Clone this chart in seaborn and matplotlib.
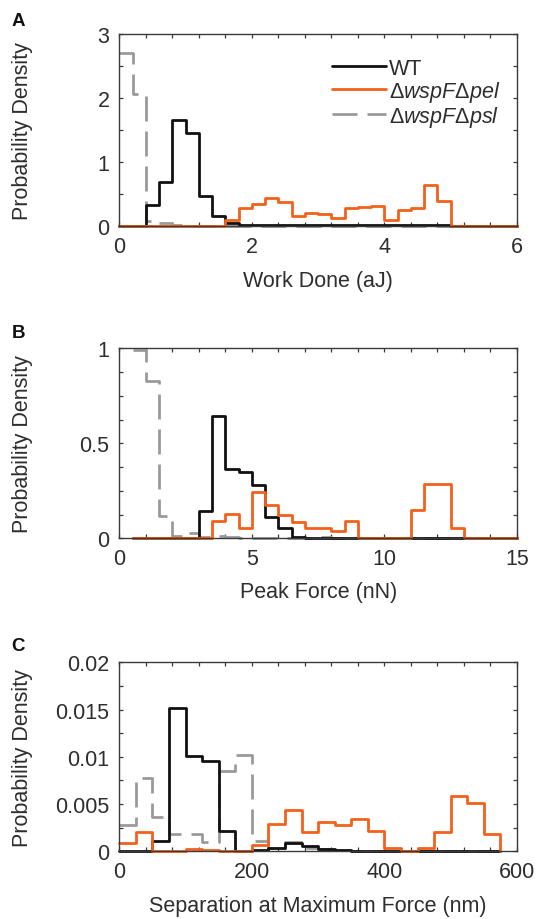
import numpy as np
import pandas as pd
import matplotlib
matplotlib.use("Agg")
import matplotlib.pyplot as plt
from matplotlib.ticker import MultipleLocator, FuncFormatter
import seaborn as sns

# ---------------- data ----------------
series_labels = ["WT", "Δ$\\mathit{wspF}$Δ$\\mathit{pel}$", "Δ$\\mathit{wspF}$Δ$\\mathit{psl}$"]

# Panel A: Work Done (aJ), bins of 0.2 from 0 to 6
a_start, a_width = 0.0, 0.2
wt_A = [0, 0, 0.33, 0.68, 1.66, 1.46, 0.47, 0.15, 0.04, 0.02,
        0.01, 0.01, 0.02, 0.01, 0.01, 0.01, 0.01, 0.01, 0.01, 0.01,
        0.01, 0.01, 0.01, 0.01, 0.01, 0, 0, 0, 0, 0]
pel_A = [0, 0, 0, 0, 0, 0, 0, 0, 0.09, 0.28,
         0.35, 0.44, 0.38, 0.16, 0.21, 0.19, 0.125, 0.28, 0.29, 0.31,
         0.09, 0.25, 0.28, 0.64, 0.39, 0, 0, 0, 0, 0]
psl_A = [2.70, 2.06, 0.08, 0.04, 0.01, 0, 0, 0, 0, 0,
         0, 0, 0, 0, 0, 0, 0, 0, 0, 0,
         0, 0, 0, 0, 0, 0, 0, 0, 0, 0]

# Panel B: Peak Force (nN), bins of 0.5 from 0.5 to 15
b_start, b_width = 0.5, 0.5
wt_B = [0, 0, 0, 0, 0, 0.146, 0.646, 0.365, 0.347, 0.28,
        0.114, 0.053, 0.005, 0.003, 0.003, 0.003, 0.003, 0, 0, 0,
        0, 0.003, 0.003, 0.003, 0.003, 0, 0, 0, 0]
pel_B = [0, 0, 0, 0, 0, 0, 0.093, 0.128, 0.053, 0.242,
         0.177, 0.123, 0.088, 0.054, 0.054, 0.04, 0.093, 0, 0, 0,
         0, 0.149, 0.286, 0.286, 0.053, 0, 0, 0, 0]
psl_B = [0.99, 0.83, 0.12, 0.014, 0.03, 0.005, 0.01, 0.005, 0, 0,
         0, 0, 0, 0, 0.008, 0, 0, 0, 0, 0,
         0, 0, 0, 0, 0, 0, 0, 0, 0]

# Panel C: Separation at Maximum Force (nm), bins of 25 from 0 to 575
c_start, c_width = 0.0, 25.0
wt_C = [0, 0, 0.00113, 0.01517, 0.01005, 0.00952, 0.00212, 0.00005, 0.00015, 0.0004,
        0.00088, 0.0006, 0.0002, 0.0001, 0.00005, 0.00005, 0.00005, 0.00005, 0.00005, 0.00005,
        0.00005, 0.00005, 0.00005]
pel_C = [0.00088, 0.00208, 0.00005, 0.00005, 0.00025, 0.0001, 0.00005, 0.00005, 0.0007, 0.0029,
         0.0044, 0.00208, 0.00307, 0.00282, 0.00342, 0.00212, 0.0003, 0.00005, 0.0003, 0.0020,
         0.0059, 0.00508, 0.00183]
psl_C = [0.0028, 0.0078, 0.00367, 0.00183, 0.00183, 0.00095, 0.00847, 0.0102, 0.00113, 0.0004,
         0.00095, 0.0003, 0.0002, 0.0001, 0, 0, 0, 0, 0, 0,
         0, 0, 0]

panels = [
    dict(letter="A", start=a_start, width=a_width, series=[wt_A, pel_A, psl_A],
         xlabel="Work Done (aJ)", xlim=(0, 6), ylim=(0, 3),
         xmaj=2, xmin=0.4, ymaj=1, ymin=0.5),
    dict(letter="B", start=b_start, width=b_width, series=[wt_B, pel_B, psl_B],
         xlabel="Peak Force (nN)", xlim=(0, 15), ylim=(0, 1),
         xmaj=5, xmin=1, ymaj=0.5, ymin=0.125),
    dict(letter="C", start=c_start, width=c_width, series=[wt_C, pel_C, psl_C],
         xlabel="Separation at Maximum Force (nm)", xlim=(0, 600), ylim=(0, 0.02),
         xmaj=200, xmin=40, ymaj=0.005, ymin=0.0025),
]

# ---------------- style ----------------
sns.set_theme(style="ticks")
plt.rcParams["font.family"] = ["Liberation Sans", "DejaVu Sans"]
plt.rcParams["mathtext.fontset"] = "custom"
plt.rcParams["mathtext.it"] = "Liberation Sans:italic"
plt.rcParams["mathtext.rm"] = "Liberation Sans"

TXT = "#2e2e2e"
SPINE = "#3a3a3a"
colors = ["#111111", "#f2611c", "#9a9a9a"]
zorders = [2.1, 2.2, 2.0]
FS = 15.5

fig = plt.figure(figsize=(5.36, 9.2), dpi=100)
W, H = 536.0, 920.0
ax_px = [(119.3, 35.0, 517.0, 227.0), (119.3, 349.3, 517.0, 539.3), (119.3, 663.3, 517.0, 852.3)]
letter_y = [21.5, 334.0, 646.5]
xlabel_off = [55.0, 53.0, 54.0]

fmt = FuncFormatter(lambda v, p: ("%g" % round(v, 6)))

for i, (p, (l, t, r, b)) in enumerate(zip(panels, ax_px)):
    ax = fig.add_axes([l / W, 1 - b / H, (r - l) / W, (b - t) / H])
    n = len(p["series"][0])
    edges = p["start"] + p["width"] * np.arange(n + 1)
    handles = []
    for k, vals in enumerate(p["series"]):
        df = pd.DataFrame({"x": edges, "y": list(vals) + [0.0]})
        sns.lineplot(data=df, x="x", y="y", ax=ax, color=colors[k], linewidth=2.0,
                     drawstyle="steps-post", zorder=zorders[k], estimator=None,
                     sort=False, legend=False)
        line = ax.lines[-1]
        line.set_clip_on(False)
        if k == 2:
            line.set_dashes((9, 3.6))
        handles.append(line)

    ax.set_xlim(*p["xlim"])
    ax.set_ylim(*p["ylim"])
    ax.xaxis.set_major_locator(MultipleLocator(p["xmaj"]))
    ax.xaxis.set_minor_locator(MultipleLocator(p["xmin"]))
    ax.yaxis.set_major_locator(MultipleLocator(p["ymaj"]))
    ax.yaxis.set_minor_locator(MultipleLocator(p["ymin"]))
    ax.xaxis.set_major_formatter(fmt)
    ax.yaxis.set_major_formatter(fmt)
    ax.tick_params(which="both", direction="in", top=True, right=True,
                   length=3, width=0.9, color=SPINE, labelsize=FS,
                   labelcolor=TXT, pad=7)
    for s in ax.spines.values():
        s.set_color(SPINE)
        s.set_linewidth(1.0)
    ax.set_facecolor("white")

    ax.set_xlabel(p["xlabel"], fontsize=FS, color=TXT, va="center")
    ax.xaxis.set_label_coords(0.5, -xlabel_off[i] / (b - t))
    ax.set_ylabel("Probability Density", fontsize=FS, color=TXT, va="center")
    ax.yaxis.set_label_coords((23.0 - l) / (r - l), 0.5)

    fig.text(18.5 / W, 1 - letter_y[i] / H, p["letter"], fontsize=13.5,
             fontweight="bold", color="#111111", ha="center", va="center")

    if i == 0:
        ax.legend(handles, series_labels, loc="upper left",
                  bbox_to_anchor=(0.535, 0.875), frameon=False, fontsize=FS,
                  handlelength=2.5, handletextpad=0.15, labelspacing=0.0,
                  borderpad=0, borderaxespad=0, labelcolor=TXT)

fig.savefig("out.png", dpi=100, facecolor="white")
